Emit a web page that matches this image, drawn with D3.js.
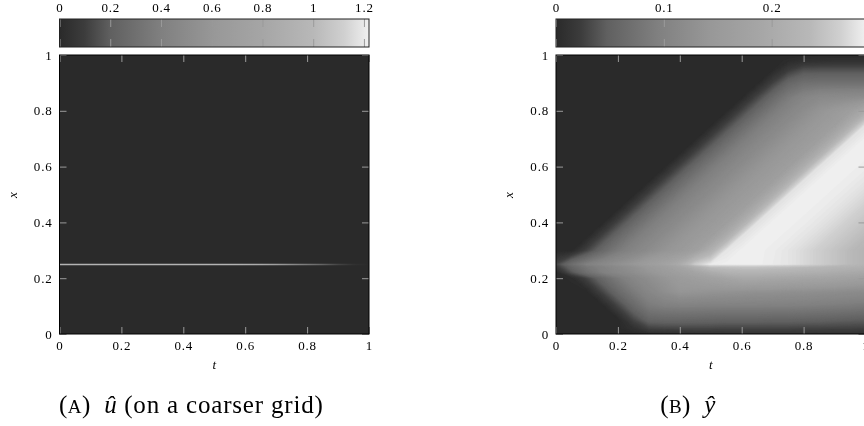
<!DOCTYPE html>
<html>
<head>
<meta charset="utf-8">
<script src="https://cdnjs.cloudflare.com/ajax/libs/d3/7.8.5/d3.min.js"></script>
<style>
  html, body { margin: 0; padding: 0; background: #fff; overflow: hidden; }
  text { font-family: "Liberation Serif", serif; fill: #000; }
  #chart { filter: blur(0.35px); }
</style>
</head>
<body>
<svg id="chart" width="864" height="426"></svg>
<script>
// colour map shared by both panels (fraction of the bar, grey level)
const cmapStops = [0, 0.08, 0.165, 0.33, 0.5, 0.65, 0.82, 0.92, 1];
const cmapGreys = [42, 60, 96, 128, 152, 165, 184, 208, 240];

const tTicks = [0, 0.2, 0.4, 0.6, 0.8, 1];
const xTicks = [0, 0.2, 0.4, 0.6, 0.8, 1];
const barTicksA = [0, 0.2, 0.4, 0.6, 0.8, 1, 1.2];
const barTicksB = [0, 0.1, 0.2];
const barMaxA = 1.22;
const barMaxB = 0.287;

// panel A: u is zero except on the x = 0.25 row
const uT = [0, 0.05, 0.1, 0.15, 0.2, 0.25, 0.3, 0.35, 0.4, 0.45, 0.5, 0.55, 0.6, 0.65, 0.7, 0.75, 0.8, 0.85, 0.9, 0.95, 1];
const uRow = [0.95, 0.95, 0.95, 0.95, 0.95, 0.95, 0.95, 0.95, 0.95, 0.95, 0.95, 0.95, 0.9, 0.85, 0.7, 0.5, 0.35, 0.22, 0.12, 0.04, 0];

// panel B: y in thousandths, one line per x row, columns t = 0, 0.05 ... 1
const yT = uT;
const yRows = [1, 0.98, 0.95, 0.9, 0.85, 0.8, 0.75, 0.7, 0.65, 0.6, 0.55, 0.5, 0.45, 0.4, 0.35, 0.3, 0.25, 0.24, 0.22, 0.2, 0.15, 0.1, 0.05, 0.02, 0];
const yValues = [
  [0,0,0,0,0,0,0,0,0,0,0,0,0,0,0,0,1,2,2,2,3],
  [0,0,0,0,0,0,0,0,0,0,0,0,0,0,0,3,8,9,10,10,10],
  [0,0,0,0,0,0,0,0,0,0,0,0,0,0,0,20,35,36,36,36,36],
  [0,0,0,0,0,0,0,0,0,0,0,0,0,0,28,58,72,74,74,74,74],
  [0,0,0,0,0,0,0,0,0,0,0,0,0,30,62,88,105,116,118,120,122],
  [0,0,0,0,0,0,0,0,0,0,0,0,30,62,88,105,122,138,150,165,200],
  [0,0,0,0,0,0,0,0,0,0,0,30,62,88,105,122,138,150,165,208,278],
  [0,0,0,0,0,0,0,0,0,0,30,62,88,105,122,138,150,165,208,278,287],
  [0,0,0,0,0,0,0,0,0,30,62,88,105,122,138,150,165,208,278,287,287],
  [0,0,0,0,0,0,0,0,30,62,88,105,122,138,150,165,208,278,287,287,285],
  [0,0,0,0,0,0,0,30,62,88,105,122,138,150,165,208,278,287,287,285,280],
  [0,0,0,0,0,0,30,62,88,105,122,138,150,165,208,278,287,287,285,280,272],
  [0,0,0,0,0,30,62,88,105,122,138,150,165,208,278,287,287,285,280,272,262],
  [0,0,0,0,30,62,88,105,122,138,150,165,208,278,287,287,285,280,272,262,250],
  [0,0,0,30,62,88,105,122,138,150,165,208,278,287,287,285,280,272,262,250,238],
  [0,0,30,62,88,105,122,138,150,170,215,280,287,287,285,280,272,262,250,238,225],
  [30,70,98,115,130,145,165,180,205,260,285,287,287,287,284,280,272,262,250,238,225],
  [20,58,85,100,118,132,150,165,185,215,245,248,250,250,248,245,240,235,228,222,215],
  [0,40,72,95,110,125,140,155,170,185,205,220,225,225,222,220,215,212,205,200,195],
  [0,3,30,62,88,108,125,140,155,165,175,185,195,195,192,190,187,185,180,175,170],
  [0,0,0,30,62,88,108,125,140,138,136,134,132,130,130,128,127,125,123,120,118],
  [0,0,0,0,30,62,88,95,97,97,96,96,96,96,95,95,94,92,90,88,85],
  [0,0,0,0,0,30,55,58,58,57,56,55,55,55,54,54,53,52,50,48,46],
  [0,0,0,0,0,10,28,30,31,31,31,30,30,30,30,30,29,29,28,28,27],
  [0,0,0,0,0,0,6,8,10,12,13,13,13,13,13,13,13,12,12,12,12]
];

const plotTop = 55, plotBottom = 334, plotWidth = 309.5;
const barTop = 19, barBottom = 47;
const tickLen = 7;
const tickColor = "#9a9a9a";

const svg = d3.select("#chart");
const defs = svg.append("defs");

function greyFor(frac) {
  const g = Math.round(d3.scaleLinear().domain(cmapStops).range(cmapGreys).clamp(true)(frac));
  return d3.rgb(g, g, g).formatHex();
}

function drawAxis(g, axis, showLabels) {
  g.call(axis);
  g.select(".domain").remove();
  g.selectAll(".tick line").attr("stroke", tickColor).attr("stroke-width", 1);
  if (!showLabels) g.selectAll(".tick text").remove();
  g.selectAll(".tick text")
    .attr("font-size", 13).attr("letter-spacing", 0.8)
    .attr("font-family", "Liberation Serif").style("fill", "#000");
}

function drawFrame(id, left, barMax, barTicks, drawField) {
  const right = left + plotWidth;
  const tScale = d3.scaleLinear().domain([0, 1]).range([left, right]);
  const xScale = d3.scaleLinear().domain([0, 1]).range([plotBottom, plotTop]);
  const barScale = d3.scaleLinear().domain([0, barMax]).range([left, right]);

  // colour bar
  const grad = defs.append("linearGradient").attr("id", "bar" + id);
  grad.selectAll("stop").data(cmapStops).join("stop")
    .attr("offset", d => d)
    .attr("stop-color", (d, i) => d3.rgb(cmapGreys[i], cmapGreys[i], cmapGreys[i]).formatHex());
  svg.append("rect")
    .attr("x", left).attr("y", barTop)
    .attr("width", plotWidth).attr("height", barBottom - barTop)
    .attr("fill", `url(#bar${id})`);
  const fmt = d => String(d);
  drawAxis(svg.append("g").attr("transform", `translate(0,${barTop})`),
    d3.axisTop(barScale).tickValues(barTicks).tickFormat(fmt).tickSizeInner(-8).tickPadding(7), true);
  drawAxis(svg.append("g").attr("transform", `translate(0,${barBottom})`),
    d3.axisBottom(barScale).tickValues(barTicks).tickFormat("").tickSizeInner(-8), false);
  svg.append("rect")
    .attr("x", left).attr("y", barTop)
    .attr("width", plotWidth).attr("height", barBottom - barTop)
    .attr("fill", "none").attr("stroke", "#222").attr("stroke-width", 1);

  // field
  svg.append("rect")
    .attr("x", left).attr("y", plotTop)
    .attr("width", plotWidth).attr("height", plotBottom - plotTop)
    .attr("fill", greyFor(0));
  const clip = defs.append("clipPath").attr("id", "clip" + id);
  clip.append("rect")
    .attr("x", left).attr("y", plotTop)
    .attr("width", plotWidth).attr("height", plotBottom - plotTop);
  const field = svg.append("g").attr("clip-path", `url(#clip${id})`).append("g");
  drawField(field, tScale, xScale);

  // ticks on all four sides, labels on left and bottom
  drawAxis(svg.append("g").attr("transform", `translate(0,${plotBottom})`),
    d3.axisBottom(tScale).tickValues(tTicks).tickFormat(fmt).tickSizeInner(-tickLen).tickPadding(7), true);
  drawAxis(svg.append("g").attr("transform", `translate(0,${plotTop})`),
    d3.axisTop(tScale).tickValues(tTicks).tickSizeInner(-tickLen), false);
  drawAxis(svg.append("g").attr("transform", `translate(${left},0)`),
    d3.axisLeft(xScale).tickValues(xTicks).tickFormat(fmt).tickSizeInner(-tickLen).tickPadding(7), true);
  drawAxis(svg.append("g").attr("transform", `translate(${right},0)`),
    d3.axisRight(xScale).tickValues(xTicks).tickSizeInner(-tickLen), false);
  svg.append("rect")
    .attr("x", left).attr("y", plotTop)
    .attr("width", plotWidth).attr("height", plotBottom - plotTop)
    .attr("fill", "none").attr("stroke", "#000").attr("stroke-width", 1);

  // axis names
  svg.append("text").attr("x", (left + right) / 2).attr("y", 369)
    .attr("text-anchor", "middle").attr("font-size", 13).attr("font-style", "italic").text("t");
  svg.append("text").attr("transform", `translate(${left - 43},195) rotate(-90)`)
    .attr("text-anchor", "middle").attr("font-size", 13).attr("font-style", "italic").text("x");
}

function drawU(field, tScale, xScale) {
  const grad = defs.append("linearGradient").attr("id", "uLine");
  grad.selectAll("stop").data(uRow).join("stop")
    .attr("offset", (d, i) => uT[i])
    .attr("stop-color", d => greyFor(d / barMaxA));
  field.append("rect")
    .attr("x", tScale(0)).attr("width", tScale(1) - tScale(0))
    .attr("y", xScale(0.25) - 0.5).attr("height", 1.5)
    .attr("fill", "url(#uLine)");
}

function drawY(field, tScale, xScale) {
  const n = yT.length, m = yRows.length;
  const flat = yValues.flat().map(d => d / 1000);
  const levels = d3.range(0.002, barMaxB + 0.0001, 0.002);
  const contours = d3.contours().size([n, m]).thresholds(levels)(flat);
  // grid index -> page position, rows are not evenly spaced
  const tIdx = d3.scaleLinear().domain([0.5, n - 0.5]).range([tScale(0), tScale(1)]);
  const rowIdx = d3.scaleLinear().domain(yRows.map((d, j) => j + 0.5)).range(yRows.map(d => xScale(d)));
  const path = d3.geoPath(d3.geoTransform({
    point(a, b) { this.stream.point(tIdx(a), rowIdx(b)); }
  }));
  field.selectAll("path").data(contours).join("path")
    .attr("d", path)
    .attr("fill", d => greyFor(d.value / barMaxB));
}

drawFrame("A", 59.5, barMaxA, barTicksA, drawU);
drawFrame("B", 556, barMaxB, barTicksB, drawY);

// captions
function caption(x, anchor, letter, rest) {
  const t = svg.append("text").attr("x", x).attr("y", 413)
    .attr("text-anchor", anchor).attr("font-size", 25).attr("letter-spacing", 0.45);
  t.append("tspan").text("(");
  t.append("tspan").attr("font-size", 19).text(letter);
  t.append("tspan").text(")\u00a0\u00a0");
  rest.forEach(r => t.append("tspan")
    .attr("font-style", r[1] ? "italic" : "normal")
    .attr("letter-spacing", r[1] ? 0.45 : 0.82)
    .text(r[0]));
}
caption(59, "start", "A", [["\u00fb", true], ["\u00a0(on a coarser grid)", false]]);
caption(688, "middle", "B", [["\u0177", true]]);
</script>
</body>
</html>
